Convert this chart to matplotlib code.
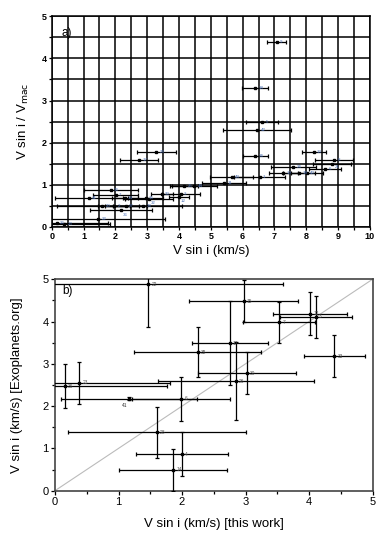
import matplotlib
matplotlib.use("Agg")
import matplotlib.pyplot as plt
from matplotlib.ticker import MultipleLocator

plt.rcParams['font.family'] = ['Liberation Sans', 'DejaVu Sans']

# ---- panel a data: V sin i (km/s), V sin i / V_mac, x error, star label
a_labels = ["9", "18", "5", "42", "28", "13", "34", "17", "8", "21", "24", "6",
            "10", "19", "40", "1", "43", "11", "25", "44", "30", "3", "12", "7",
            "16", "41", "14", "15", "32", "20", "2", "27", "38", "36", "22", "26", "23"]
a_x = [7.07, 6.39, 6.62, 6.46, 3.29, 8.23, 6.40, 2.75, 8.88, 8.80, 7.59, 8.59,
       7.28, 7.78, 8.01, 6.54, 5.65, 5.42, 4.16, 4.48, 3.46, 4.05, 4.00, 2.01,
       1.86, 1.17, 2.30, 2.95, 3.06, 1.59, 1.97, 2.33, 2.88, 2.17, 1.47, 0.16, 0.40]
a_y = [4.39, 3.29, 2.48, 2.29, 1.77, 1.77, 1.69, 1.58, 1.58, 1.50, 1.43, 1.38,
       1.27, 1.27, 1.27, 1.18, 1.18, 1.05, 0.97, 0.97, 0.78, 0.78, 0.72, 0.76,
       0.88, 0.68, 0.68, 0.68, 0.66, 0.50, 0.50, 0.50, 0.50, 0.39, 0.18, 0.10, 0.06]
a_xerr = [0.30, 0.40, 0.50, 1.07, 0.62, 0.38, 0.40, 0.60, 0.60, 0.60, 0.70, 0.50,
          0.45, 0.50, 0.50, 0.80, 0.68, 0.70, 0.45, 0.70, 0.35, 0.60, 0.30, 0.70,
          0.86, 1.07, 0.40, 0.55, 0.75, 1.41, 0.50, 0.40, 1.20, 0.97, 2.10, 1.60, 1.43]

# ---- panel b data: this work vs Exoplanets.org
b_labels = ["22", "15", "7", "12", "3", "17", "38", "30", "26", "33",
            "23", "36", "41", "6", "28", "4", "14"]
b_x = [1.47, 2.97, 3.53, 4.02, 4.11, 2.75, 2.25, 3.02, 2.85, 4.40,
       0.38, 0.16, 1.17, 1.99, 1.60, 2.00, 1.86]
b_y = [4.88, 4.48, 3.98, 4.19, 4.11, 3.49, 3.28, 2.78, 2.59, 3.18,
       2.55, 2.47, 2.18, 2.18, 1.38, 0.86, 0.49]
b_xerr = [2.12, 0.86, 0.57, 0.58, 0.57, 0.60, 1.00, 0.77, 1.23, 0.48,
          1.43, 1.61, 1.07, 0.77, 1.40, 0.73, 0.85]
b_yerr = [1.00, 0.50, 0.48, 0.50, 0.50, 1.00, 0.60, 0.49, 0.92, 0.50,
          0.50, 0.52, 0.04, 0.52, 0.61, 0.52, 0.50]

# label placement tweaks (panel a): labels drawn below their point
a_below = {"12", "32", "36"}

fig = plt.figure(figsize=(3.83, 5.44), dpi=100)

# ================= panel a
axa = fig.add_axes([0.135, 0.583, 0.831, 0.387])
axa.set_xlim(0, 10)
axa.set_ylim(0, 5)
axa.xaxis.set_major_locator(MultipleLocator(1))
axa.xaxis.set_minor_locator(MultipleLocator(0.5))
axa.yaxis.set_major_locator(MultipleLocator(1))
axa.yaxis.set_minor_locator(MultipleLocator(0.5))
axa.grid(True, which='both', color='black', linewidth=1.1)
axa.set_axisbelow(True)
axa.errorbar(a_x, a_y, xerr=a_xerr, fmt='s', color='black', ms=1.8,
             elinewidth=0.9, capsize=1.4, capthick=0.9, zorder=3)
for lab, x, y in zip(a_labels, a_x, a_y):
    if lab in a_below:
        axa.text(x + 0.05, y - 0.05, lab, fontsize=3.2, color='#4a6fb5',
                 va='top', ha='left', zorder=4)
    elif lab == "21":
        axa.text(x + 0.1, y - 0.02, lab, fontsize=3.2, color='#4a6fb5',
                 va='top', ha='left', zorder=4)
    else:
        axa.text(x + 0.1, y, lab, fontsize=3.2, color='#4a6fb5',
                 va='center', ha='left', zorder=4)
axa.tick_params(axis='both', which='major', labelsize=6.5, length=2.5, width=0.9, pad=1)
axa.tick_params(axis='both', which='minor', length=2, width=0.9)
for t in axa.get_xticklabels() + axa.get_yticklabels():
    t.set_fontweight('bold')
for s in axa.spines.values():
    s.set_linewidth(1.1)
axa.text(0.3, 4.6, "a)", fontsize=8.5, ha='left', va='center')
axa.set_xlabel("V sin i (km/s)", fontsize=9.5, labelpad=3)
axa.set_ylabel(r"V sin i / V$_{\mathrm{mac}}$", fontsize=9.5, labelpad=8)

# ================= panel b
axb = fig.add_axes([0.1436, 0.098, 0.829, 0.3886])
axb.set_xlim(0, 5)
axb.set_ylim(0, 5)
axb.xaxis.set_major_locator(MultipleLocator(1))
axb.xaxis.set_minor_locator(MultipleLocator(0.5))
axb.yaxis.set_major_locator(MultipleLocator(1))
axb.yaxis.set_minor_locator(MultipleLocator(0.5))
axb.plot([0, 5], [0, 5], color='#bbbbbb', linewidth=0.8, zorder=1)
axb.errorbar(b_x, b_y, xerr=b_xerr, yerr=b_yerr, fmt='s', color='black', ms=1.8,
             elinewidth=0.9, capsize=1.4, capthick=0.9, zorder=3, clip_on=True)
for lab, x, y in zip(b_labels, b_x, b_y):
    if lab == "41":
        axb.text(x - 0.08, y - 0.1, lab, fontsize=3.5, color='#333333',
                 va='top', ha='center', zorder=4)
    else:
        axb.text(x + 0.05, y, lab, fontsize=3.5, color='#555555',
                 va='center', ha='left', zorder=4)
axb.tick_params(axis='both', which='major', labelsize=8, length=3, width=0.9, pad=1.5)
axb.tick_params(axis='both', which='minor', length=2, width=0.9)
for s in axb.spines.values():
    s.set_linewidth(1.2)
    s.set_color('#444444')
axb.text(0.12, 4.72, "b)", fontsize=8.5, ha='left', va='center')
axb.set_xlabel("V sin i (km/s) [this work]", fontsize=9.5, labelpad=8)
axb.set_ylabel("V sin i (km/s) [Exoplanets.org]", fontsize=9.5, labelpad=14)

fig.savefig("out.png", dpi=100)
